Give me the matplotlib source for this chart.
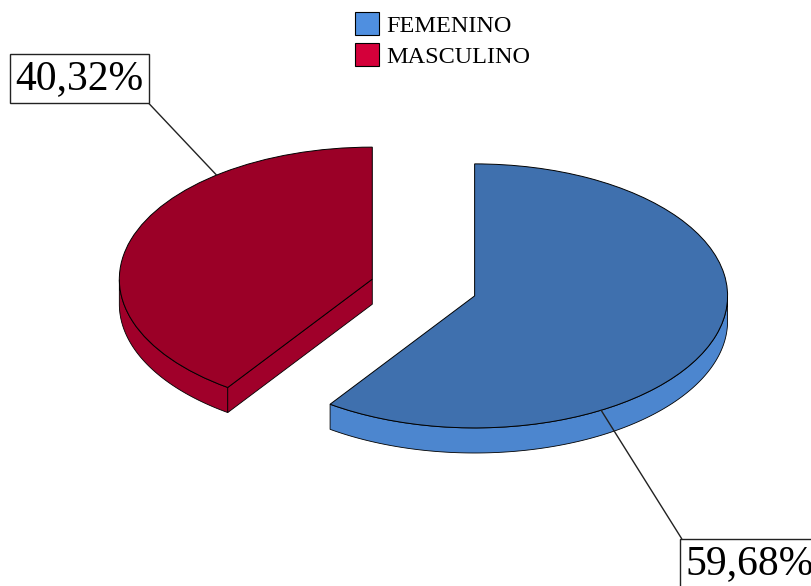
import numpy as np
import matplotlib.pyplot as plt
from matplotlib.patches import Polygon, Patch

labels = ["FEMENINO", "MASCULINO"]
values = [59.68, 40.32]
pct_labels = ["59,68%", "40,32%"]

top_colors = ["#3f70ae", "#9b0027"]
side_colors = ["#4c86cf", "#a0002a"]
legend_colors = ["#4f8fe0", "#d4003a"]

plt.rcParams['font.family'] = ['Liberation Serif', 'DejaVu Serif']

fig = plt.figure(figsize=(8.11, 5.86), dpi=100)
ax = fig.add_axes([0, 0, 1, 1])

depth = 0.19
wedges, _ = ax.pie(values, explode=[0.212, 0.212], startangle=90, counterclock=False,
                   colors=top_colors,
                   wedgeprops=dict(edgecolor="black", linewidth=0.7, zorder=3))

# fake 3d: outer rim + visible cut faces below each top wedge
for w, sc in zip(wedges, side_colors):
    cx, cy = w.center
    t1, t2 = w.theta1, w.theta2
    th = np.radians(np.linspace(t1, t2, 400))
    vis = np.sin(th) < 0
    if vis.any():
        a = th[vis]
        top = np.column_stack([cx + np.cos(a), cy + np.sin(a)])
        bot = top - [0, depth]
        ax.add_patch(Polygon(np.vstack([top, bot[::-1]]), closed=True,
                             facecolor=sc, edgecolor="black", linewidth=0.6, zorder=1))
    for phi, nrm in [(t1, t1 - 90), (t2, t2 + 90)]:
        if np.sin(np.radians(nrm)) < -1e-6:
            p = np.radians(phi)
            rim = (cx + np.cos(p), cy + np.sin(p))
            pts = [(cx, cy), rim, (rim[0], rim[1] - depth), (cx, cy - depth)]
            ax.add_patch(Polygon(pts, closed=True, facecolor=sc,
                                 edgecolor="black", linewidth=0.6, zorder=2))

ax.set_aspect("auto")
ax.set_xlim(-1.674, 1.532)
ax.set_ylim(-2.261, 2.178)
ax.axis("off")

# boxed percentage labels with leader lines
label_angles = [-60, 128]
label_pos = [(0.924, 0.0384), (0.098, 0.866)]
corner = [(0, 1), (1, 0)]
for w, txt, ang, pos, rp in zip(wedges, pct_labels, label_angles, label_pos, corner):
    cx, cy = w.center
    a = np.radians(ang)
    ax.annotate(txt, xy=(cx + np.cos(a), cy + np.sin(a)), xycoords="data",
                xytext=pos, textcoords="figure fraction",
                ha="center", va="center", fontsize=30,
                bbox=dict(boxstyle="square,pad=0.12", facecolor="white",
                          edgecolor="#222222", linewidth=1),
                arrowprops=dict(arrowstyle="-", color="#222222", lw=1,
                                relpos=rp, shrinkA=0, shrinkB=0),
                annotation_clip=False, zorder=5)

handles = [Patch(facecolor=c, edgecolor="black", linewidth=0.8) for c in legend_colors]
fig.legend(handles, labels, loc="upper left", bbox_to_anchor=(355 / 811, 1 - 12 / 586),
           frameon=False, fontsize=17.5, handlelength=1.0, handleheight=1.1,
           handletextpad=0.3, labelspacing=0.25, borderpad=0, borderaxespad=0)

fig.savefig("out.png", dpi=100)
